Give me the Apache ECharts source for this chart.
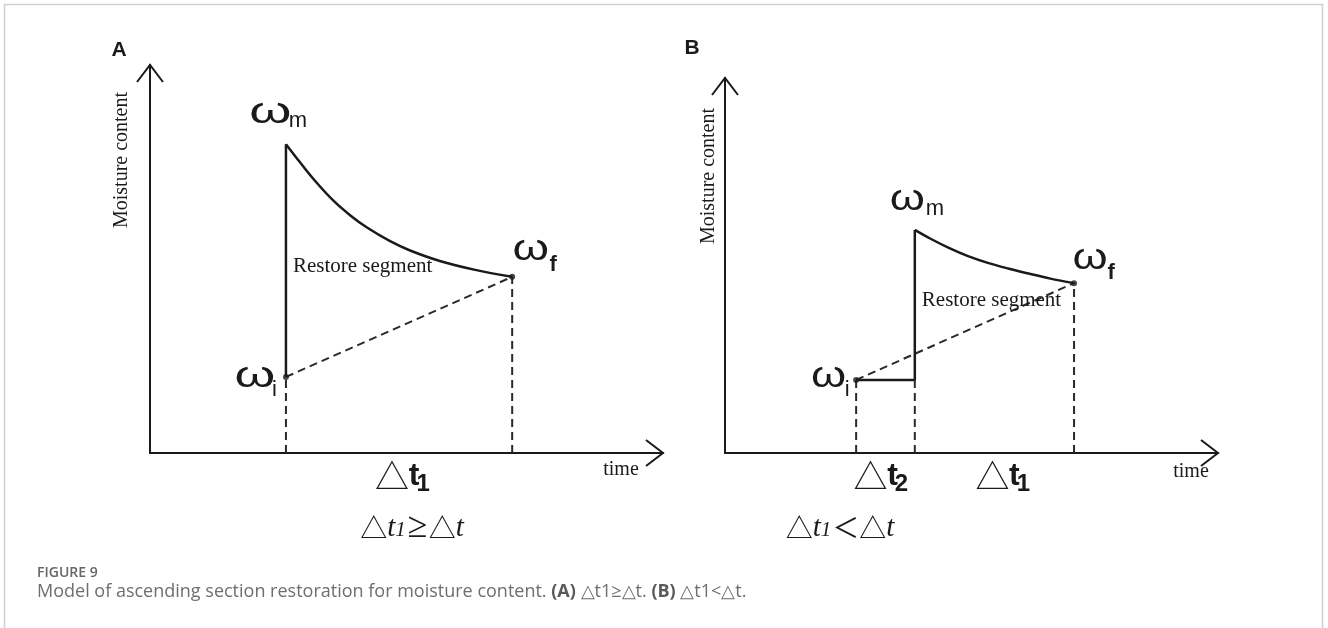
<!DOCTYPE html>
<html>
<head>
<meta charset="utf-8">
<script src="https://cdn.jsdelivr.net/npm/echarts@6/dist/echarts.min.js"></script>
<style>
  html, body { margin: 0; padding: 0; background: #ffffff; }
  #chart { width: 1328px; height: 628px; }
</style>
</head>
<body>
<div id="chart"></div>
<script>
// ---- Model values (time on x, moisture content on y; both axes run 0..100) ----
const AXIS_RANGE = [0, 100];

// Panel A: restoration starts right at the initial point
const A_WI = [26.5, 19.6];   // ωi
const A_WM = [26.5, 79.6];   // ωm (peak)
const A_WF = [70.6, 45.4];   // ωf
const A_DECAY = [
  [26.5, 79.6], [29.2, 75.0], [32.2, 70.1], [35.7, 65.1], [39.0, 61.3], [42.3, 58.1],
  [46.8, 54.6], [50.7, 52.2], [56.5, 49.5], [63.4, 47.2], [70.6, 45.4]
];

// Panel B: flat stretch (Δt2) before the jump
const B_WI = [26.6, 19.5];
const B_STEP = [38.5, 19.5];
const B_WM = [38.5, 59.5];
const B_WF = [70.8, 45.3];
const B_DECAY = [
  [38.5, 59.5], [41.6, 57.2], [45.4, 54.7], [49.3, 52.5], [53.3, 50.7],
  [57.4, 49.2], [61.1, 48.0], [66.0, 46.5], [70.8, 45.3]
];

// ---- Text ----
const PANEL_LETTERS = ['A', 'B'];
const Y_NAME = 'Moisture content';
const X_NAME = 'time';
const SEGMENT_NAME = 'Restore segment';
const CAPTION_HEAD = 'FIGURE 9';
const CAPTION_PARTS = ['Model of ascending section restoration for moisture content. ', '(A)', ' △t1≥△t. ', '(B)', ' △t1<△t.'];

// ---- Styles ----
const INK = '#1a1a1a';
const SOLID = { color: INK, width: 2.5, type: 'solid' };
const DASH = { color: '#2a2a2a', width: 2, type: [8, 5] };
const SERIF = "'Liberation Serif', 'Times New Roman', serif";
const SANS = "'Liberation Sans', Arial, sans-serif";
const TRI = "'Noto Sans CJK SC', 'DejaVu Sans', sans-serif";
const CAPTION_FONT = "'Open Sans', 'Noto Sans', sans-serif";

const chart = echarts.init(document.getElementById('chart'), null, { renderer: 'canvas' });

function axisPair(idx) {
  return {
    type: 'value', gridIndex: idx, min: AXIS_RANGE[0], max: AXIS_RANGE[1],
    axisLine: { show: true, onZero: true, lineStyle: { color: INK, width: 2 } },
    axisTick: { show: false }, axisLabel: { show: false }, splitLine: { show: false }
  };
}

function line(points, grid, style, smooth) {
  return {
    type: 'line', xAxisIndex: grid, yAxisIndex: grid, data: points, symbol: 'none',
    smooth: smooth || false, lineStyle: style, silent: true, z: 3
  };
}
function drop(pt, grid) {
  return line([[pt[0], 0], pt], grid, DASH);
}
function dots(points, grid) {
  return {
    type: 'scatter', xAxisIndex: grid, yAxisIndex: grid, data: points,
    symbolSize: 6, itemStyle: { color: INK }, silent: true, z: 5
  };
}

chart.setOption({
  animation: false,
  backgroundColor: '#ffffff',
  grid: [
    { left: 150, top: 65, width: 513, height: 388 },
    { left: 725, top: 78, width: 493, height: 375 }
  ],
  xAxis: [axisPair(0), axisPair(1)],
  yAxis: [axisPair(0), axisPair(1)],
  series: [
    line([A_WI, A_WM], 0, SOLID),
    line(A_DECAY, 0, SOLID, 0.35),
    line([A_WI, A_WF], 0, DASH),
    drop(A_WI, 0),
    drop(A_WF, 0),
    dots([A_WI, A_WF], 0),

    line([B_WI, B_STEP, B_WM], 1, SOLID),
    line(B_DECAY, 1, SOLID, 0.35),
    line([B_WI, B_WF], 1, DASH),
    drop(B_WI, 1),
    drop(B_STEP, 1),
    drop(B_WF, 1),
    dots([B_WI, B_WF], 1)
  ]
});

// ---- Annotations placed through the grid coordinate systems ----
const px = (grid, v) => chart.convertToPixel({ gridIndex: grid }, v);

function text(x, y, str, font, extra) {
  const e = extra || {};
  return {
    type: 'text', x: x, y: y, silent: true, z: 20,
    rotation: e.rotation || 0, scaleX: e.scaleX || 1,
    style: {
      text: str, font: font, fill: e.fill || INK,
      align: e.align || 'center', textAlign: e.align || 'center',
      verticalAlign: 'middle', textVerticalAlign: 'middle',
      rich: e.rich
    }
  };
}

function arrow(tip, dir) {
  const back = 17, half = 13;
  const pts = dir === 'up'
    ? [[tip[0] - half, tip[1] + back], tip, [tip[0] + half, tip[1] + back]]
    : [[tip[0] - back, tip[1] - half], tip, [tip[0] - back, tip[1] + half]];
  return { type: 'polyline', silent: true, z: 20, shape: { points: pts },
           style: { stroke: INK, lineWidth: 2, fill: null } };
}

// ω label with subscript: [grid, point, subscript, ωdx, ωdy, subdx, subdy, stretch, bold]
const OMEGA_LAYOUT = [
  [0, A_WM, 'm', -15.5, -31.5, 12, -23.6, 1.5, false],
  [0, A_WI, 'i', -31, 0.5, -11.5, 13.4, 1.45, false],
  [0, A_WF, 'f', 18.5, -26.5, 41, -11.6, 1.3, true],
  [1, B_WM, 'm', -7.5, -29.5, 20, -21, 1.25, false],
  [1, B_WI, 'i', -27.5, -2.5, -9, 10.4, 1.25, false],
  [1, B_WF, 'f', 16, -24, 37, -10.6, 1.25, true]
];

// Δt labels under the time axis: [grid, from x, to x, subscript, left offset]
const DT_LAYOUT = [
  [0, A_WI[0], A_WF[0], '1', -22],
  [1, B_WI[0], B_STEP[0], '2', -30],
  [1, B_STEP[0], B_WF[0], '1', -17]
];

function buildGraphics() {
  const g = [];
  // outer frame
  g.push({ type: 'rect', silent: true, z: 1, shape: { x: 4.5, y: 4.5, width: 1318, height: 700 },
           style: { fill: null, stroke: '#cfcfcf', lineWidth: 1.5 } });

  [0, 1].forEach(function (gi) {
    const origin = px(gi, [0, 0]);
    const top = px(gi, [0, AXIS_RANGE[1]]);
    const right = px(gi, [AXIS_RANGE[1], 0]);
    g.push(arrow(top, 'up'));
    g.push(arrow(right, 'right'));
    // panel letter
    g.push(text(origin[0] - (gi === 0 ? 31 : 33), top[1] - (gi === 0 ? 15 : 30), PANEL_LETTERS[gi],
                'bold 21px ' + SANS));
    // axis names
    g.push(text(origin[0] - (gi === 0 ? 28 : 16), top[1] + (gi === 0 ? 95 : 98), Y_NAME, '20px ' + SERIF,
                { rotation: Math.PI / 2 }));
    g.push(text(right[0] - (gi === 0 ? 42 : 27), origin[1] + (gi === 0 ? 17 : 19), X_NAME, '20px ' + SERIF));
  });

  // restore segment labels beside the jump
  const aPeak = px(0, A_WM);
  g.push(text(aPeak[0] + 7, px(0, [0, 48])[1], SEGMENT_NAME, '21px ' + SERIF, { align: 'left' }));
  const bPeak = px(1, B_WM);
  g.push(text(bPeak[0] + 7, px(1, [0, 40.8])[1], SEGMENT_NAME, '21px ' + SERIF, { align: 'left' }));

  // ω labels
  OMEGA_LAYOUT.forEach(function (o) {
    const p = px(o[0], o[1]);
    g.push(text(p[0] + o[3], p[1] + o[4], 'ω', '36px ' + SANS, { scaleX: o[7] }));
    g.push(text(p[0] + o[5], p[1] + o[6], o[2], (o[8] ? 'bold ' : '') + '22px ' + SANS));
  });

  // Δt labels
  DT_LAYOUT.forEach(function (d) {
    const mid = px(d[0], [(d[1] + d[2]) / 2, 0]);
    const left = mid[0] + d[4];
    const y0 = mid[1];
    g.push(text(left + 15, y0 + 23, '△', '34px ' + TRI));
    g.push(text(left + 37, y0 + 23, 't', 'bold 32px ' + SANS));
    g.push(text(left + 46, y0 + 31.7, d[3], 'bold 24px ' + SANS));
  });

  // conditions under each panel
  const eqRich = {
    d: { fontFamily: TRI, fontSize: 27, fill: INK, color: INK },
    e: { fontFamily: SERIF, fontStyle: 'italic', fontSize: 29, fill: INK, color: INK },
    g: { fontFamily: SERIF, fontSize: 36, fill: INK, color: INK, padding: [0, 1, 0, 1] },
    s: { fontFamily: SERIF, fontStyle: 'italic', fontSize: 21, fill: INK, color: INK, padding: [4, 1, 0, 0] }
  };
  g.push(text(412, 528, '{d|△}{e|t}{s|1}{g|≥}{d|△}{e|t}', '28px ' + SERIF, { rich: eqRich }));
  g.push(text(840, 528, '{d|△}{e|t}{s|1}{d|＜}{d|△}{e|t}', '28px ' + SERIF, { rich: eqRich }));

  // caption
  g.push(text(37, 573, CAPTION_HEAD, '600 14px ' + CAPTION_FONT, { align: 'left', fill: '#666666' }));
  const capRich = {
    n: { fontFamily: CAPTION_FONT, fontSize: 18, fill: '#6e6e6e', color: '#6e6e6e' },
    b: { fontFamily: CAPTION_FONT, fontSize: 18, fontWeight: 'bold', fill: '#5a5a5a', color: '#5a5a5a' }
  };
  const cap = CAPTION_PARTS.map(function (s, i) { return '{' + (i % 2 === 1 ? 'b' : 'n') + '|' + s + '}'; }).join('');
  g.push(text(37, 592, cap, '18px ' + CAPTION_FONT, { align: 'left', rich: capRich }));

  return g;
}

chart.setOption({ graphic: buildGraphics() });
</script>
</body>
</html>
